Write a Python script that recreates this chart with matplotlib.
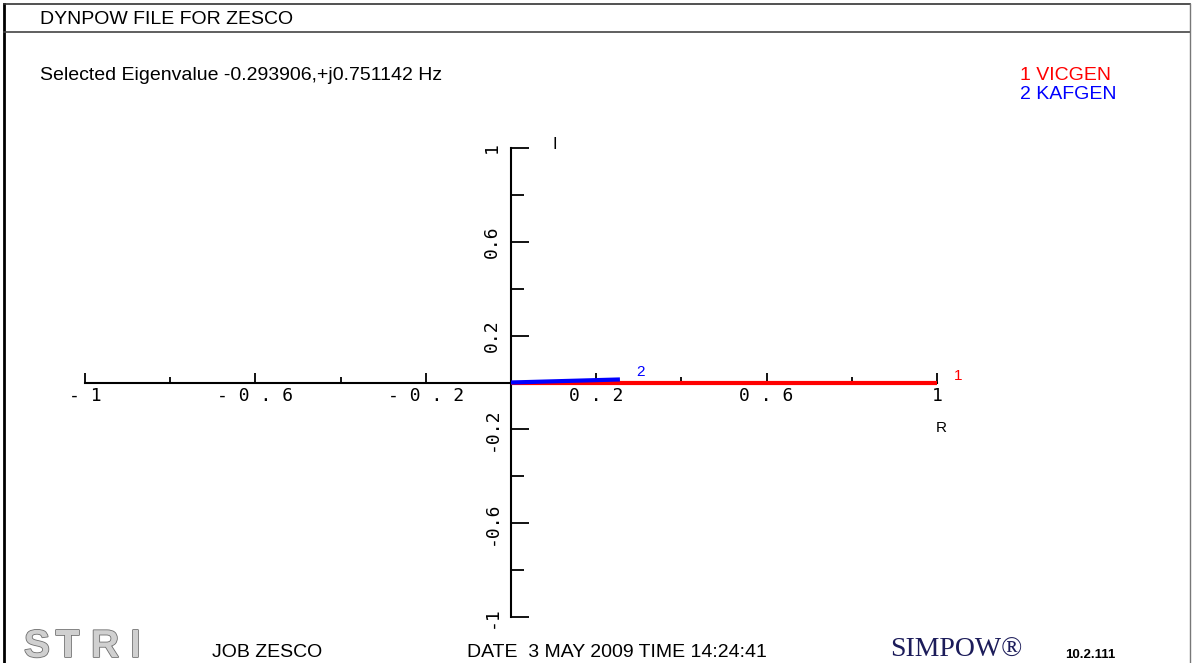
import numpy as np
import matplotlib
matplotlib.use("Agg")
import matplotlib.pyplot as plt
from matplotlib.lines import Line2D
from matplotlib.ticker import FixedLocator, FuncFormatter
import matplotlib.patheffects as pe

# mode shape phasors (relative magnitude, angle in degrees)
generators = ["VICGEN", "KAFGEN"]
magnitudes = [1.0, 0.256]
angles_deg = [0.0, 2.9]
colors = ["#ff0000", "#0000ff"]

eigen_re = -0.293906
eigen_im = 0.751142

major_ticks = [-1, -0.6, -0.2, 0.2, 0.6, 1]
minor_ticks = [-0.8, -0.4, 0.4, 0.8]

W, H = 1192, 663
fig = plt.figure(figsize=(W / 100, H / 100), dpi=100)
plt.rcParams["font.family"] = ["Liberation Sans", "DejaVu Sans"]


def fx(px):
    return px / W


def fy(py):
    return 1 - py / H


# page frame
fig.add_artist(Line2D([fx(4), fx(4)], [0, fy(4)], color="black", lw=2))
fig.add_artist(Line2D([fx(4), fx(1190)], [fy(4), fy(4)], color="#333333", lw=1.2))
fig.add_artist(Line2D([fx(4), fx(1190)], [fy(32), fy(32)], color="#444444", lw=1.2))
fig.add_artist(Line2D([fx(1190), fx(1190)], [0, fy(4)], color="#777777", lw=1))

ax = fig.add_axes([fx(85), fy(617), fx(937) - fx(85), fy(148) - fy(617)])
ax.set_xlim(-1, 1)
ax.set_ylim(-1, 1)
ax.patch.set_alpha(0)
for side in ["top", "right"]:
    ax.spines[side].set_visible(False)
ax.spines["left"].set_position(("data", 0))
ax.spines["bottom"].set_position(("data", 0))
for side in ["left", "bottom"]:
    ax.spines[side].set_linewidth(1.5)
    ax.spines[side].set_color("black")

ax.xaxis.set_major_locator(FixedLocator(major_ticks))
ax.xaxis.set_minor_locator(FixedLocator(minor_ticks))
ax.yaxis.set_major_locator(FixedLocator(major_ticks))
ax.yaxis.set_minor_locator(FixedLocator(minor_ticks))
ax.xaxis.set_major_formatter(FuncFormatter(lambda v, p: " ".join(f"{v:g}")))
ax.yaxis.set_major_formatter(FuncFormatter(lambda v, p: f"{v:g}"))

ax.tick_params(axis="x", which="major", direction="in", length=7, width=1.3, pad=3,
               labelsize=13, labelfontfamily="DejaVu Sans Mono")
ax.tick_params(axis="x", which="minor", direction="in", length=4.5, width=1.3)
ax.tick_params(axis="y", which="major", direction="in", length=13, width=1.3, pad=7,
               labelsize=13, labelfontfamily="DejaVu Sans Mono", labelrotation=90)
ax.tick_params(axis="y", which="minor", direction="in", length=9.5, width=1.3)
for lab in ax.get_yticklabels():
    lab.set_va("center")

# phasors
for i, (name, m, a, c) in enumerate(zip(generators, magnitudes, angles_deg, colors)):
    re = m * np.cos(np.radians(a))
    im = m * np.sin(np.radians(a))
    ax.plot([0, re], [0, im], color=c, lw=3, solid_capstyle="butt", clip_on=False, zorder=3 + i)
    ax.annotate(str(i + 1), (re, im), xytext=(12, 0), textcoords="offset points",
                color=c, fontsize=11, ha="left", va="bottom")

ax.annotate("I", (0, 1), xytext=(30, -3), textcoords="offset points", fontsize=12,
            ha="left", va="bottom")
ax.annotate("R", (1, 0), xytext=(-1, -28), textcoords="offset points", fontsize=11,
            ha="left", va="top")

# header and annotations
fig.text(fx(40), fy(24), "DYNPOW FILE FOR ZESCO", fontsize=14, va="baseline")
fig.text(fx(40), fy(80), f"Selected Eigenvalue {eigen_re:.6f},+j{eigen_im:.6f} Hz",
         fontsize=14, va="baseline")
for i, (name, c) in enumerate(zip(generators, colors)):
    fig.text(fx(1020), fy(80 + 19 * i), f"{i + 1} {name}", color=c, fontsize=14, va="baseline")

# footer
logo_fx = [pe.withStroke(linewidth=1.2, foreground="#6e6e6e")]
for ch, px in zip("STRI", [24, 56, 91, 130]):
    fig.text(fx(px), fy(657), ch, fontsize=28, fontweight="bold", color="#d0d0d0",
             va="baseline", path_effects=logo_fx)
fig.text(fx(212), fy(657), "JOB ZESCO", fontsize=14, va="baseline")
fig.text(fx(467), fy(657), "DATE  3 MAY 2009 TIME 14:24:41", fontsize=14, va="baseline")
fig.text(fx(890), fy(657), "SIMPOW\u00ae", fontsize=20, color="#1c1c5a",
         family="Liberation Serif", va="baseline")
fig.text(fx(1065), fy(658), "10.2.111", fontsize=9.5, fontweight="bold", va="baseline")

fig.savefig("out.png", dpi=100)
